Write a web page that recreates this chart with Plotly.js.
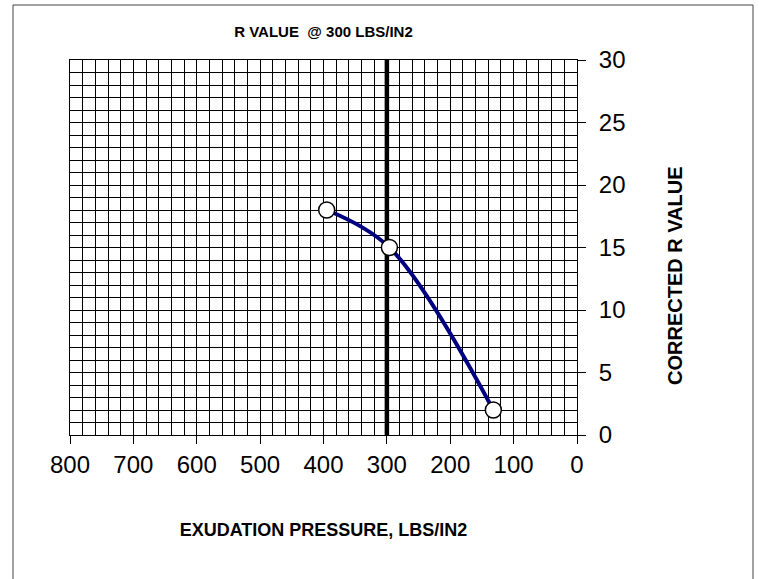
<!DOCTYPE html>
<html>
<head>
<meta charset="utf-8">
<script src="https://cdn.plot.ly/plotly-3.0.1.min.js"></script>
<style>
  html, body { margin: 0; padding: 0; background: #fff; }
  #chart { width: 759px; height: 579px; }
</style>
</head>
<body>
<div id="chart"></div>
<script>
// Exudation pressure (lbs/in2) vs corrected R value for the three test specimens
const exudationPressure = [395, 296, 132];
const correctedR = [18, 15, 2];

// Reference line at 300 lbs/in2 spanning the full R range
const refPressure = [300, 300];
const refR = [0, 30];

// Axis ticks
const xTickVals = [800, 700, 600, 500, 400, 300, 200, 100, 0];
const yTickVals = [0, 5, 10, 15, 20, 25, 30];

const FONT = '"Liberation Sans", Arial, Helvetica, sans-serif';

const traces = [
  {
    x: exudationPressure, y: correctedR,
    type: 'scatter', mode: 'lines',
    line: { color: '#000080', width: 4, shape: 'spline', smoothing: 1 },
    hoverinfo: 'skip'
  },
  {
    x: refPressure, y: refR,
    type: 'scatter', mode: 'lines',
    line: { color: '#000000', width: 4.5 },
    hoverinfo: 'skip'
  },
  {
    x: exudationPressure, y: correctedR,
    type: 'scatter', mode: 'markers',
    marker: { size: 16, color: '#ffffff', line: { color: '#000000', width: 1.5 } },
    hoverinfo: 'skip'
  }
];

const layout = {
  width: 759, height: 579,
  margin: { l: 70, r: 182, t: 60, b: 144 },
  paper_bgcolor: '#ffffff', plot_bgcolor: '#ffffff',
  showlegend: false,
  font: { family: FONT, color: '#000' },
  title: {
    text: '<b>R VALUE  @ 300 LBS/IN2</b>',
    font: { family: FONT, size: 15, color: '#000' },
    xref: 'paper', x: 0.5, xanchor: 'center',
    yref: 'container', y: 1 - 32 / 579, yanchor: 'middle'
  },
  xaxis: {
    range: [800, 0], autorange: false,
    tickmode: 'array', tickvals: xTickVals,
    ticks: 'outside', ticklen: 8, tickwidth: 1, tickcolor: '#000',
    tickfont: { family: FONT, size: 24, color: '#000' },
    showgrid: true, gridcolor: '#000', gridwidth: 1,
    minor: { dtick: 20, showgrid: true, gridcolor: '#000', gridwidth: 1, ticks: '' },
    zeroline: false,
    showline: true, mirror: true, linecolor: '#000', linewidth: 1,
    title: {
      text: '<b>EXUDATION PRESSURE, LBS/IN2</b>',
      font: { family: FONT, size: 18, color: '#000' },
      standoff: 46
    },
    automargin: false, fixedrange: true
  },
  yaxis: {
    range: [0, 30], autorange: false,
    side: 'right',
    tickmode: 'array', tickvals: yTickVals,
    ticks: 'outside', ticklen: 8, tickwidth: 1, tickcolor: '#000',
    ticklabelstandoff: 8,
    tickfont: { family: FONT, size: 24, color: '#000' },
    showgrid: true, gridcolor: '#000', gridwidth: 1,
    minor: { dtick: 1, showgrid: true, gridcolor: '#000', gridwidth: 1, ticks: '' },
    zeroline: false,
    showline: true, mirror: true, linecolor: '#000', linewidth: 1,
    automargin: false, fixedrange: true
  },
  annotations: [
    {
      // y-axis title, placed to the right of the tick labels
      text: '<b>CORRECTED R VALUE</b>',
      font: { family: FONT, size: 20, color: '#000' },
      textangle: -90, showarrow: false,
      xref: 'paper', yref: 'paper',
      x: (675 - 70) / 507, y: (435 - 276) / 375,
      xanchor: 'center', yanchor: 'middle'
    }
  ],
  shapes: [
    {
      // chart frame
      type: 'rect', xref: 'paper', yref: 'paper',
      x0: (13 - 70) / 507, x1: (753 - 70) / 507,
      y0: (435 - 590) / 375, y1: (435 - 5) / 375,
      line: { color: '#444', width: 1 }, fillcolor: 'rgba(0,0,0,0)',
      layer: 'below'
    }
  ]
};

Plotly.newPlot('chart', traces, layout, { staticPlot: true, displayModeBar: false });
</script>
</body>
</html>
